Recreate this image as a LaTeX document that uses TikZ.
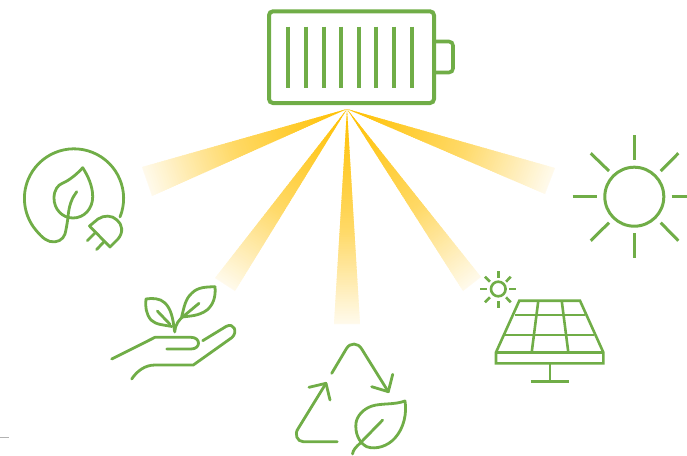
\documentclass[tikz,border=0pt]{standalone}
\usetikzlibrary{calc}
\definecolor{leafgreen}{HTML}{70AD47}
\definecolor{raygold}{HTML}{FFC000}
\definecolor{raymid}{HTML}{FFD966}
\tikzset{
  icon/.style={draw=leafgreen,line width=2.8pt,line cap=round,line join=round},
  thin icon/.style={draw=leafgreen,line width=2.6pt,line join=miter,line cap=butt}
}
% a ray from the apex to the end edge (#1,#2)-(#3,#4), built of thin overlapping bands
\newcommand\sunray[4]{%
  \foreach \i in {90,89,...,0}{%
    \pgfmathsetmacro\ta{\i/90}%
    \pgfmathsetmacro\tb{min(1,(\i+1.5)/90)}%
    \pgfmathparse{\ta<0.55 ? 1 : 0}%
    \ifnum\pgfmathresult>0
      \pgfmathsetmacro\pc{\ta/0.55*100}%
      \colorlet{bandcol}{raymid!\pc!raygold}%
    \else
      \pgfmathsetmacro\pc{(\ta-0.55)/0.45*90}%
      \colorlet{bandcol}{white!\pc!raymid}%
    \fi
    \fill[bandcol] ({347+\ta*(#1-347)},{109+\ta*(#2-109)}) -- ({347+\tb*(#1-347)},{109+\tb*(#2-109)})
      -- ({347+\tb*(#3-347)},{109+\tb*(#4-109)}) -- ({347+\ta*(#3-347)},{109+\ta*(#4-109)}) -- cycle;
  }}
\begin{document}
\begin{tikzpicture}[x=1pt,y=-1pt]
\useasboundingbox (0,0) rectangle (687,455);
% rays
\sunray{142}{167}{152}{196}
\sunray{215}{278}{235}{291}
\sunray{334}{324}{360}{324}
\sunray{463}{291}{481}{277}
\sunray{555}{168}{545}{194}
% battery
\draw[draw=leafgreen,line width=4pt,rounded corners=4pt] (269,11.3) rectangle (434,103);
\draw[draw=leafgreen,line width=3.6pt,rounded corners=4pt] (435,41.5) -- (453,41.5) -- (453,72.5) -- (435,72.5);
\foreach \bx in {288.3,305.9,323.5,341.2,358.9,376.4,394,411.7}
  \draw[draw=leafgreen,line width=4pt] (\bx,26.7) -- (\bx,88);
% plug icon
\draw[icon] (120,217) arc[start angle=22,end angle=-215,radius=49.6]
  .. controls (38,233) and (44,240) .. (50,241.5)
  .. controls (57,243) and (63,240) .. (65,234)
  .. controls (66,230) and (67,225) .. (68,217)
  .. controls (69,205) and (72,198) .. (76.7,191.7);
\draw[icon] (82.7,167.7) .. controls (88,176) and (92.7,186) .. (92.7,196.7)
  .. controls (92.7,209) and (84,218) .. (73,218)
  .. controls (62,218) and (54,209) .. (54,198)
  .. controls (54,190) and (58,185) .. (62,183.5)
  .. controls (70,180) and (77,174) .. cycle;
\draw[icon] (89.5,226) -- (110,247) -- (118,239)
  .. controls (124,232) and (122,224) .. (117,220)
  .. controls (112,215) and (104,215) .. (98,219) -- cycle;
\draw[icon] (95,233) -- (87.3,240.7);
\draw[icon] (104,241.7) -- (96.7,249.5);
% hand icon
\draw[icon] (146,299) .. controls (152,298) and (160,298) .. (165,303)
  .. controls (171,309) and (173,318) .. (174.5,331);
\draw[icon] (146,299) .. controls (145,306) and (146,314) .. (151,320)
  .. controls (156,325) and (165,325) .. (172,326.5);
\draw[icon] (157.3,311) -- (170,324.3);
\draw[icon] (215,286.7) .. controls (206,287) and (198,287) .. (192,293)
  .. controls (185,299) and (184,308) .. (181.7,316.7);
\draw[icon] (215,286.7) .. controls (216,297) and (213,305) .. (207,310)
  .. controls (199,316) and (190,316) .. (181.7,317);
\draw[icon] (199,303.3) -- (185,315) .. controls (179,319) and (175,325) .. (174.7,332);
\draw[icon] (111.7,359) -- (155,337.3) -- (191,337.3)
  .. controls (201,337.3) and (201,349) .. (191,349) -- (166.7,349);
\draw[icon] (131.7,379) .. controls (137,371) and (145,365) .. (155,365) -- (193.3,365)
  -- (232,337.5) .. controls (238,332) and (234,322) .. (226,326.5) -- (202.7,340.7);
% recycle icon
\draw[icon] (331.7,373.3) -- (346.5,348.5) .. controls (350,342.5) and (358,342.5) .. (361.7,349) -- (388.3,391.7);
\draw[icon] (371.7,386.7) -- (388.3,391.7) -- (392.7,374.3);
\draw[icon] (337.3,441.7) -- (303.3,441.7) .. controls (297,441.7) and (294,434) .. (298.3,428.3) -- (326,383.3);
\draw[icon] (309,387.3) -- (326,383.3) -- (330,400);
\draw[icon] (405,401) .. controls (407,413) and (404,428) .. (395,438)
  .. controls (388,446) and (376,450) .. (366.7,446.7)
  .. controls (358,442) and (355,432) .. (356,423)
  .. controls (357,416) and (363,409) .. (372,406)
  .. controls (382,403) and (394,405) .. cycle;
\draw[icon] (382.7,420) -- (360,443.3) .. controls (356,447) and (353,450) .. (352.5,454);
% solar panel icon
\draw[thin icon] (498.3,289) circle[radius=7.3];
\foreach \ax/\ay/\bx/\by in {498.3/271/498.3/277.7,498.3/301/498.3/307.7,480/289/486.7/289,509.3/289/516/289,485/276.7/490/281.7,510.7/276.7/506/281.7,490/297.3/485/302.3,506/297.3/510.7/302.3}
  \draw[thin icon] (\ax,\ay) -- (\bx,\by);
\draw[thin icon] (496,352.3) -- (519.3,300.7) -- (580,300.7) -- (603.3,352.3) -- (603.3,363.3) -- (496,363.3) -- cycle;
\draw[thin icon] (496,352.3) -- (603.3,352.3);
\draw[thin icon] (515,315) -- (585,315);
\draw[thin icon] (505,335) -- (594,335);
\draw[thin icon] (538.3,300.7) -- (531.7,352.3);
\draw[thin icon] (561.7,300.7) -- (568.3,352.3);
\draw[thin icon] (550,363.3) -- (550,381.7);
\draw[thin icon] (530.7,381.7) -- (569,381.7);
% big sun
\draw[thin icon,line width=3pt] (634.3,196.7) circle[radius=29.5];
\foreach \ax/\ay/\bx/\by in {634.3/135/634.3/160,634.3/233/634.3/258,572.7/196.7/597/196.7,671.7/196.7/687/196.7,590.7/153.3/609/171,678.3/153.3/660.7/171,609/222.7/590.7/240.7,660.7/222.7/678.3/240.7}
  \draw[thin icon,line width=3pt] (\ax,\ay) -- (\bx,\by);
% stray mark
\draw[black!30,line width=0.7pt] (0,437.3) -- (9,437.3);
\end{tikzpicture}
\end{document}
